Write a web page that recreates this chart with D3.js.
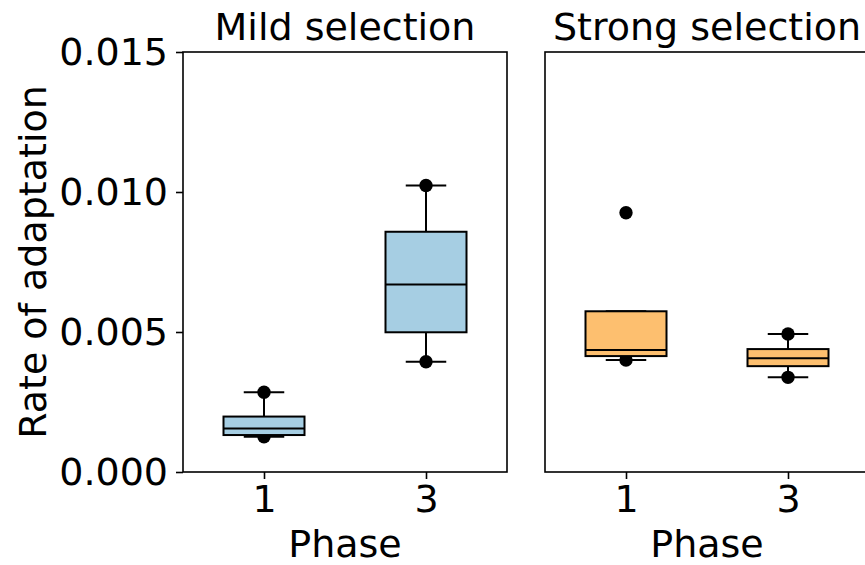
<!DOCTYPE html>
<html>
<head>
<meta charset="utf-8">
<script src="https://cdn.jsdelivr.net/npm/d3@7"></script>
<style>
html, body { margin: 0; padding: 0; background: #fff; }
svg { display: block; font-family: "DejaVu Sans", sans-serif; }
</style>
</head>
<body>
<div id="chart"></div>
<script>
// ---- data ----
const panels = ["Mild selection", "Strong selection"];
const phases = ["1", "3"];
const boxColors = ["#a6cee3", "#fdbf6f"];
// [whiskerLow, q1, median, q3, whiskerHigh] per panel, per phase
const mildStats = [
  [0.00126, 0.00132, 0.00155, 0.00198, 0.00285],
  [0.00394, 0.00499, 0.00670, 0.00858, 0.01023]
];
const strongStats = [
  [0.00400, 0.00414, 0.00436, 0.00574, 0.00574],
  [0.00338, 0.00378, 0.00406, 0.00439, 0.00493]
];
// overlaid points per phase
const mildPoints = [[0.00285, 0.00126], [0.01023, 0.00394]];
const strongPoints = [[0.00926, 0.00400], [0.00493, 0.00338]];
const yTicks = [0.000, 0.005, 0.010, 0.015];
const yLabel = "Rate of adaptation";
const xLabel = "Phase";

const statsList = [mildStats, strongStats];
const pointsList = [mildPoints, strongPoints];

// ---- layout ----
const W = 865, H = 565;
const plotTop = 52, plotBottom = 472;
const panelX = [183, 545];
const panelW = 324;
const fs = 38;

const svg = d3.select("#chart").append("svg").attr("width", W).attr("height", H);

const y = d3.scaleLinear().domain([0, 0.015]).range([plotBottom, plotTop]);

panels.forEach((title, pi) => {
  const x0 = panelX[pi];
  const x = d3.scaleLinear().domain([0.5, 2.5]).range([x0, x0 + panelW]);
  const g = svg.append("g");
  const stats = statsList[pi];
  const pts = pointsList[pi];
  const bw = 0.5, cw = 0.25;

  stats.forEach((s, i) => {
    const pos = i + 1;
    const cx = x(pos);
    // points (under box)
    g.selectAll(null).data(pts[i]).enter().append("circle")
      .attr("cx", cx).attr("cy", d => y(d)).attr("r", 6.7).attr("fill", "#000");
    // whiskers
    g.append("line").attr("x1", cx).attr("x2", cx).attr("y1", y(s[0])).attr("y2", y(s[1]))
      .attr("stroke", "#000").attr("stroke-width", 2);
    g.append("line").attr("x1", cx).attr("x2", cx).attr("y1", y(s[3])).attr("y2", y(s[4]))
      .attr("stroke", "#000").attr("stroke-width", 2);
    // caps
    [s[0], s[4]].forEach(v => {
      g.append("line").attr("x1", x(pos - cw / 2)).attr("x2", x(pos + cw / 2))
        .attr("y1", y(v)).attr("y2", y(v)).attr("stroke", "#000").attr("stroke-width", 2);
    });
    // box
    g.append("rect").attr("x", x(pos - bw / 2)).attr("width", x(pos + bw / 2) - x(pos - bw / 2))
      .attr("y", y(s[3])).attr("height", y(s[1]) - y(s[3]))
      .attr("fill", boxColors[pi]).attr("stroke", "#000").attr("stroke-width", 2);
    // median
    g.append("line").attr("x1", x(pos - bw / 2)).attr("x2", x(pos + bw / 2))
      .attr("y1", y(s[2])).attr("y2", y(s[2])).attr("stroke", "#000").attr("stroke-width", 2);
  });

  // frame
  g.append("rect").attr("x", x0).attr("y", plotTop).attr("width", panelW).attr("height", plotBottom - plotTop)
    .attr("fill", "none").attr("stroke", "#000").attr("stroke-width", 1.6);

  // x axis
  const xa = d3.axisBottom(x).tickValues([1, 2]).tickFormat((d, i) => phases[i])
    .tickSize(7).tickPadding(6);
  const xg = g.append("g").attr("transform", `translate(0,${plotBottom})`).call(xa);
  xg.select(".domain").remove();
  xg.selectAll("line").attr("stroke", "#000").attr("stroke-width", 1.6);
  xg.selectAll("text").attr("font-size", fs).attr("font-family", "DejaVu Sans").attr("fill", "#000");

  g.append("text").attr("x", x0 + panelW / 2).attr("y", 557).attr("text-anchor", "middle")
    .attr("font-size", fs).text(xLabel);
  g.append("text").attr("x", x0 + panelW / 2).attr("y", 40).attr("text-anchor", "middle")
    .attr("font-size", fs).text(title);

  if (pi === 0) {
    const ya = d3.axisLeft(y).tickValues(yTicks).tickFormat(d3.format(".3f")).tickSize(7).tickPadding(8);
    const yg = g.append("g").attr("transform", `translate(${x0},0)`).call(ya);
    yg.select(".domain").remove();
    yg.selectAll("line").attr("stroke", "#000").attr("stroke-width", 1.6);
    yg.selectAll("text").attr("font-size", fs).attr("font-family", "DejaVu Sans").attr("fill", "#000");
  }
});

svg.append("text").attr("transform", `translate(46,${(plotTop + plotBottom) / 2}) rotate(-90)`)
  .attr("text-anchor", "middle").attr("font-size", fs).text(yLabel);
</script>
</body>
</html>
